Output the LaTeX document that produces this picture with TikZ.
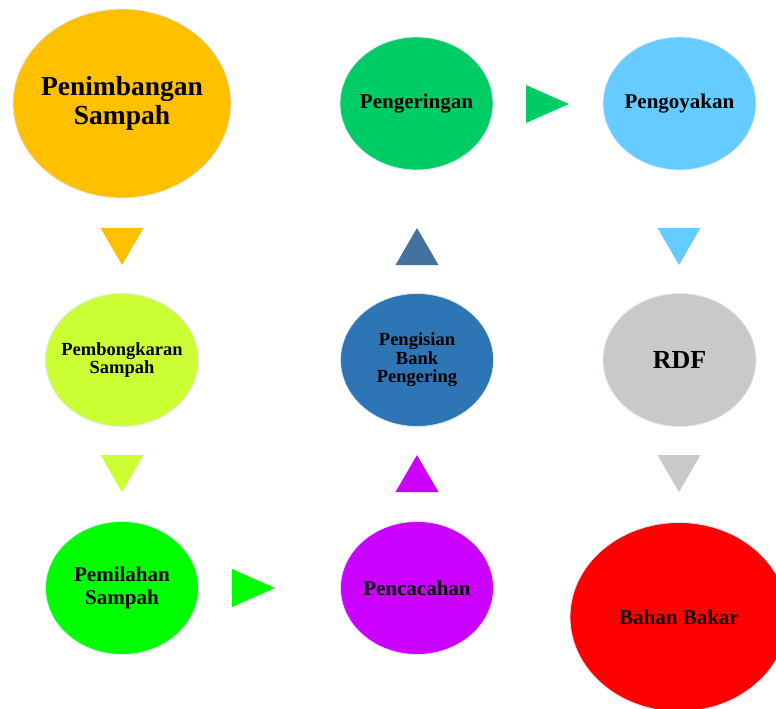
\documentclass[tikz,border=0pt]{standalone}
\usepackage{fontspec}
\setmainfont{Liberation Serif}
\usetikzlibrary{shapes.geometric}
\definecolor{cOrange}{HTML}{FFC000}
\definecolor{cGreen}{HTML}{00CC66}
\definecolor{cSky}{HTML}{66CCFF}
\definecolor{cSteel}{HTML}{44719D}
\definecolor{cLemon}{HTML}{CCFF33}
\definecolor{cBlue}{HTML}{2E75B6}
\definecolor{cGray}{HTML}{C9C9C9}
\definecolor{cLime}{HTML}{00FF00}
\definecolor{cMagenta}{HTML}{CC00FF}
\definecolor{cRed}{HTML}{FF0000}
\definecolor{glow}{HTML}{DCE9F6}
\begin{document}
\begin{tikzpicture}[x=1pt, y=-1pt,
    blob/.style={shape=ellipse, draw=glow, line width=0.8pt, inner xsep=-45pt, inner ysep=-25pt, align=center,
      minimum width=153pt, minimum height=133pt, font=\bfseries\fontsize{21}{22.3}\selectfont},
    big/.style={minimum width=218pt, minimum height=189pt},
    small/.style={font=\bfseries\fontsize{18.5}{18.4}\selectfont},
    tri/.style={shape=isosceles triangle, isosceles triangle stretches, inner sep=0pt, outer sep=0pt,
      minimum width=43pt, minimum height=37pt, anchor=apex},
    down/.style={tri, shape border rotate=-90},
    up/.style={tri, shape border rotate=90},
    right/.style={tri, minimum width=38pt, minimum height=43pt}]
  \useasboundingbox (0,0) rectangle (776,709);
  \clip (0,0) rectangle (776,709);

  % first row
  \node[blob, big, fill=cOrange, font=\bfseries\fontsize{27.5}{28.5}\selectfont] at (122,103.5) (timbang) {Penimbangan\\Sampah};
  \node[blob, fill=cGreen] at (416.5,103.5) (kering) {Pengeringan};
  \node[blob, fill=cSky] at (679.5,103.5) (koyak) {Pengoyakan};

  % second row
  \node[blob, small, fill=cLemon] at (122,360) (bongkar) {Pembongkaran\\Sampah};
  \node[blob, small, fill=cBlue] at (417,360) (isi) {Pengisian\\Bank\\Pengering};
  \node[blob, fill=cGray, font=\bfseries\fontsize{26}{28}\selectfont] at (679.5,360) (rdf) {RDF};

  % third row
  \node[blob, fill=cLime] at (122,588) (pilah) {Pemilahan\\Sampah};
  \node[blob, fill=cMagenta] at (417,588) (cacah) {Pencacahan};
  \node[blob, big, fill=cRed] at (679,617) (bakar) {Bahan Bakar};

  % triangles between the steps
  \node[down, fill=cOrange] at (122,265) (t1) {};
  \node[right, fill=cGreen] at (569,104) (t2) {};
  \node[up, fill=cSteel] at (417,228) (t3) {};
  \node[down, fill=cSky] at (679,265) (t4) {};
  \node[down, fill=cLemon] at (122,492) (t5) {};
  \node[right, fill=cLime] at (275,588) (t6) {};
  \node[up, fill=cMagenta] at (417,455) (t7) {};
  \node[down, fill=cGray] at (679,492) (t8) {};
\end{tikzpicture}
\end{document}
